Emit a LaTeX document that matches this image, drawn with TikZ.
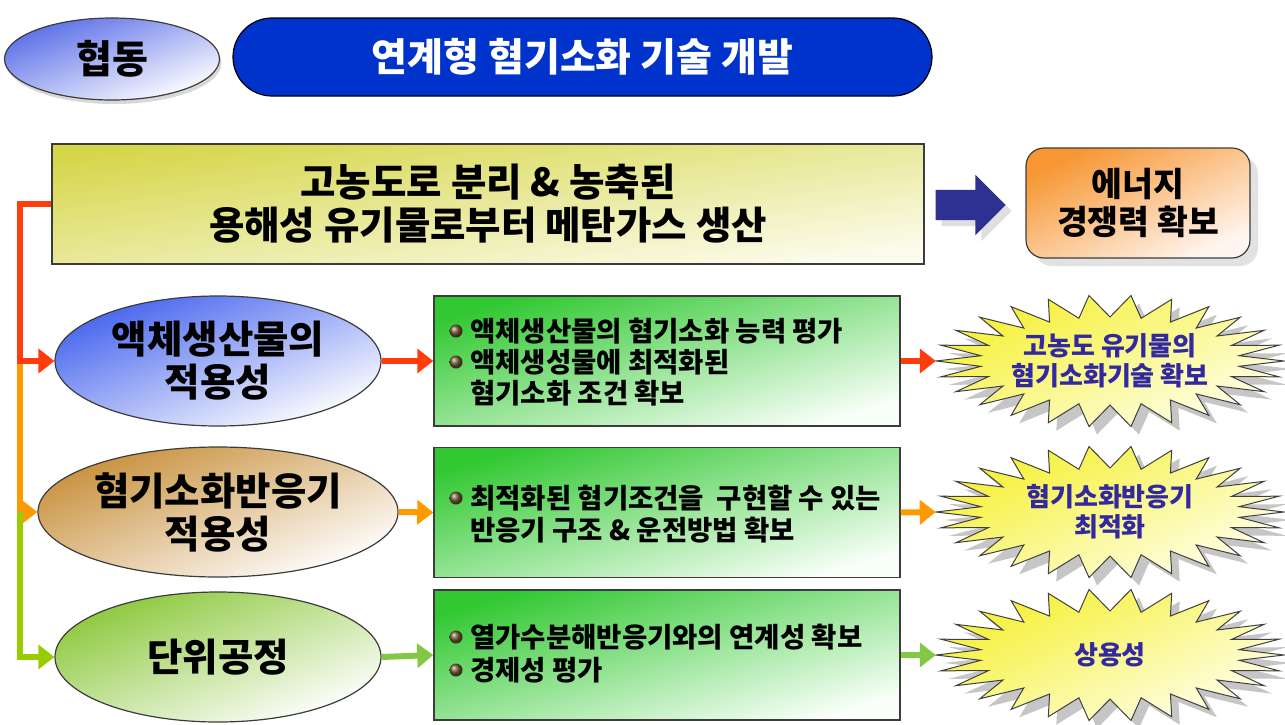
\documentclass[tikz,border=0pt]{standalone}
\usepackage{fontspec}
\setmainfont{Noto Sans CJK KR}
\usetikzlibrary{shapes.geometric,shapes.arrows,shadows,arrows.meta,calc}
\definecolor{titleblue}{RGB}{0,51,204}
\definecolor{navy}{RGB}{46,49,146}
\definecolor{cred}{RGB}{255,60,10}
\definecolor{corange}{RGB}{255,153,0}
\definecolor{cgreen}{RGB}{153,204,0}
\definecolor{cgreen2}{RGB}{130,200,70}
\definecolor{ylw}{RGB}{214,214,74}
\definecolor{ylwend}{RGB}{252,252,238}
\definecolor{orng}{RGB}{247,150,50}
\definecolor{orngend}{RGB}{255,245,238}
\definecolor{grn}{RGB}{50,200,50}
\definecolor{grnend}{RGB}{248,255,248}
\definecolor{eblue}{RGB}{70,100,238}
\definecolor{ebrown}{RGB}{200,144,60}
\definecolor{egreen}{RGB}{140,200,60}
\definecolor{hblue}{RGB}{90,110,232}
\definecolor{sbY}{RGB}{245,240,50}
\definecolor{sbW}{RGB}{255,255,235}
\definecolor{sbtext}{RGB}{50,40,160}
\definecolor{edge}{RGB}{60,60,60}
\definecolor{bul}{RGB}{110,90,50}
\newcommand\starb[2]{%
  \fill[gray!45] plot[samples at={0,...,51}] ({#1+8+(152+22*cos(180*\x))*cos(\x/52*360)},{#2+8+(55+11*cos(180*\x))*sin(\x/52*360)}) -- cycle;
  \shade[top color=sbY, bottom color=sbW, shading angle=25, draw=black!75, line width=1pt] plot[samples at={0,...,51}] ({#1+(152+22*cos(180*\x))*cos(\x/52*360)},{#2+(55+11*cos(180*\x))*sin(\x/52*360)}) -- cycle;
}
\begin{document}
\begin{tikzpicture}[x=1pt,y=-1pt,
  big/.style={font=\bfseries\fontsize{38.5}{43}\selectfont, align=center},
  mid/.style={font=\bfseries\fontsize{33.5}{38}\selectfont, align=center},
  small/.style={font=\bfseries\fontsize{27.5}{31}\selectfont, anchor=base west, inner sep=0pt},
  sbt/.style={font=\bfseries\fontsize{26}{30}\selectfont, align=center, text=sbtext},
  conn/.style={line width=6pt, line join=miter, -{Triangle[length=16pt,width=24pt]}},
  oval/.style={ellipse, draw=edge, line width=1.2pt, minimum width=326pt, minimum height=130pt},
  gbox/.style={rectangle, draw=edge, line width=1.5pt, minimum width=466pt, minimum height=130pt, top color=grn, bottom color=grnend, shading angle=16},
  bullet/.style={ball color=bul}
]
\useasboundingbox (0,0) rectangle (1285,724);

% header
\node[ellipse, draw=edge, line width=1.2pt, minimum width=215pt, minimum height=82pt,
      top color=hblue, bottom color=white, shading angle=21,
      drop shadow={shadow xshift=2pt, shadow yshift=-4pt, fill=gray!60},
      font=\bfseries\fontsize{39}{44}\selectfont] (coop) at (112,59) {협동};
\node[rectangle, rounded corners=39pt, draw=black, line width=1.2pt, fill=titleblue,
      minimum width=699pt, minimum height=78pt, text=white,
      font=\bfseries\fontsize{39}{43}\selectfont] (title) at (582.5,57) {연계형 혐기소화 기술 개발};

% main box
\node[rectangle, draw=edge, line width=1.5pt, minimum width=872pt, minimum height=120pt,
      top color=ylw, bottom color=ylwend, shading angle=8, big] (main) at (488,204)
      {고농도로 분리 \& 농축된\\용해성 유기물로부터 메탄가스 생산};

\node[single arrow, fill=navy, minimum height=70pt, minimum width=60pt, inner sep=15pt,
      single arrow head extend=15pt, single arrow tip angle=90,
      drop shadow={shadow xshift=6pt, shadow yshift=-6pt, fill=gray!50}] (barrow) at (963,205) {};

\node[rectangle, rounded corners=18pt, draw=edge, line width=1.2pt, minimum width=224pt, minimum height=110pt,
      top color=orng, bottom color=orngend, shading angle=26,
      drop shadow={shadow xshift=8pt, shadow yshift=-8pt, fill=gray!45}, mid] (energy) at (1138,203)
      {에너지\\경쟁력 확보};

% ellipses
\node[oval, top color=eblue, bottom color=white, shading angle=22, big] (e1) at (218,361) {액체생산물의\\적용성};
\node[oval, top color=ebrown, bottom color=white, shading angle=22, big] (e2) at (218,512) {혐기소화반응기\\적용성};
\node[oval, top color=egreen, bottom color=white, shading angle=22, big] (e3) at (218,657) {단위공정};

% green boxes
\node[gbox] (b1) at (667,361) {};
\node[gbox] (b2) at (667,512.5) {};
\node[gbox] (b3) at (667,655) {};

\shade[bullet] (456,331) circle (6.5pt);
\shade[bullet] (456,362) circle (6.5pt);
\shade[bullet] (456,498) circle (6.5pt);
\shade[bullet] (456,637) circle (6.5pt);
\shade[bullet] (456,670) circle (6.5pt);

\node[small] (t11) at (470,341) {액체생산물의 혐기소화 능력 평가};
\node[small] (t12) at (470,372) {액체생성물에 최적화된};
\node[small] (t13) at (470,403) {혐기소화 조건 확보};
\node[small] (t21) at (470,508) {최적화된 혐기조건을\ \ 구현할 수 있는};
\node[small] (t22) at (470,540) {반응기 구조 \& 운전방법 확보};
\node[small] (t31) at (470,647) {열가수분해반응기와의 연계성 확보};
\node[small] (t32) at (470,680) {경제성 평가};

% starbursts
\starb{1110}{361}
\starb{1110}{512}
\starb{1110}{655}
\node[ellipse, minimum width=348pt, minimum height=132pt, sbt] (s1) at (1110,361) {고농도 유기물의\\혐기소화기술 확보};
\node[ellipse, minimum width=348pt, minimum height=132pt, sbt] (s2) at (1110,512) {혐기소화반응기\\최적화};
\node[ellipse, minimum width=348pt, minimum height=132pt, sbt] (s3) at (1110,655) {상용성};

% left trunk connectors
\coordinate (j0) at (20,204);
\coordinate (j1) at (20,361);
\coordinate (j2) at (20,512);
\draw[conn, corange] (j1) |- (e2.west);
\draw[conn, cgreen] (j2) |- (e3.west);
\draw[conn, cred] (main.west) -- (j0) |- (e1.west);

% row connectors
\draw[conn, cred] (e1.east) -- (b1.west);
\draw[conn, corange] (e2.east) -- (b2.west);
\draw[conn, cgreen2] (e3.east) -- (b3.west);
\draw[conn, cred] (b1.east) -- (s1.west);
\draw[conn, corange] (b2.east) -- (s2.west);
\draw[conn, cgreen2] (b3.east) -- (s3.west);
\end{tikzpicture}
\end{document}
